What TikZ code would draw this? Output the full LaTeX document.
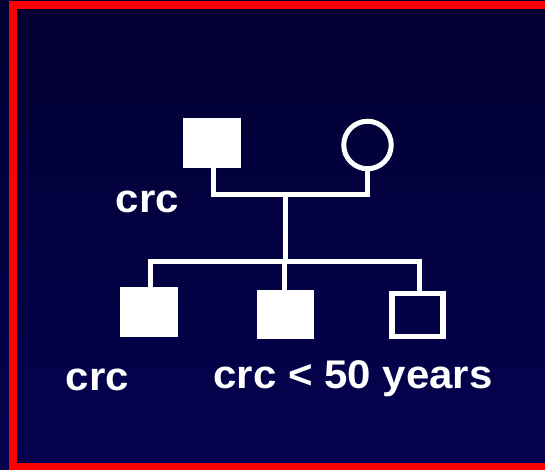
\documentclass[tikz,border=0pt]{standalone}
\usepackage{fontspec}
\setmainfont{Liberation Sans}
\newfontfamily\lblfont[FakeStretch=1.05]{Liberation Sans}
\definecolor{bgtop}{RGB}{3,0,50}
\definecolor{bgbot}{RGB}{3,3,80}
\definecolor{frame}{RGB}{255,0,0}
\begin{document}
\begin{tikzpicture}[x=1pt,y=-1pt,
  affected/.style={rectangle,fill=white,draw=none,inner sep=0pt},
  unaffected/.style={rectangle,draw=white,line width=5.5pt,fill=none,inner sep=0pt},
  female/.style={circle,draw=white,line width=5pt,fill=none,inner sep=0pt,minimum size=47.5pt},
  link/.style={draw=white,line width=5pt,line join=miter},
  lbl/.style={text=white,font=\lblfont\fontsize{40}{48}\selectfont\bfseries,inner sep=0pt,anchor=base west}]
\useasboundingbox (0,0) rectangle (545,469);
\clip (0,0) rectangle (545,469);
\shade[top color=bgtop,bottom color=bgbot] (0,0) rectangle (545,469);
\draw[frame,line width=8pt] (13,5) rectangle (551,467);
% parents
\node[affected,minimum width=58pt,minimum height=50pt] (father) at (212,143) {};
\node[female] (mother) at (367.5,145) {};
% children
\node[affected,minimum width=57.7pt,minimum height=50pt] (c1) at (148.9,312.3) {};
\node[affected,minimum width=56.7pt,minimum height=49.3pt] (c2) at (285.7,314.7) {};
\node[unaffected,minimum width=50.9pt,minimum height=43.1pt] (c3) at (417.5,315) {};
% junctions
\coordinate (mf) at (213.5,194.5);
\coordinate (mm) at (367.5,194.5);
\coordinate (mid) at (285,194.5);
\coordinate (sib) at (285,261);
\coordinate (s1) at (150,261);
\coordinate (s2) at (284,261);
\coordinate (s3) at (419,261);
\path[link] (father.south -| mf) -- (mf) -- (mm) -- (mother.south);
\path[link] (mid) -- (sib);
\path[link] (s1 |- c1.north) -- (s1) -- (s3) -- (s3 |- c3.north);
\path[link] (s2) -- (s2 |- c2.north);
% labels
\node[lbl] (l0) at (115.7,212.3) {crc};
\node[lbl] (l1) at (65.7,390) {crc};
\node[lbl] (l2) at (213.4,388.6) {crc < 50 years};
\end{tikzpicture}
\end{document}
